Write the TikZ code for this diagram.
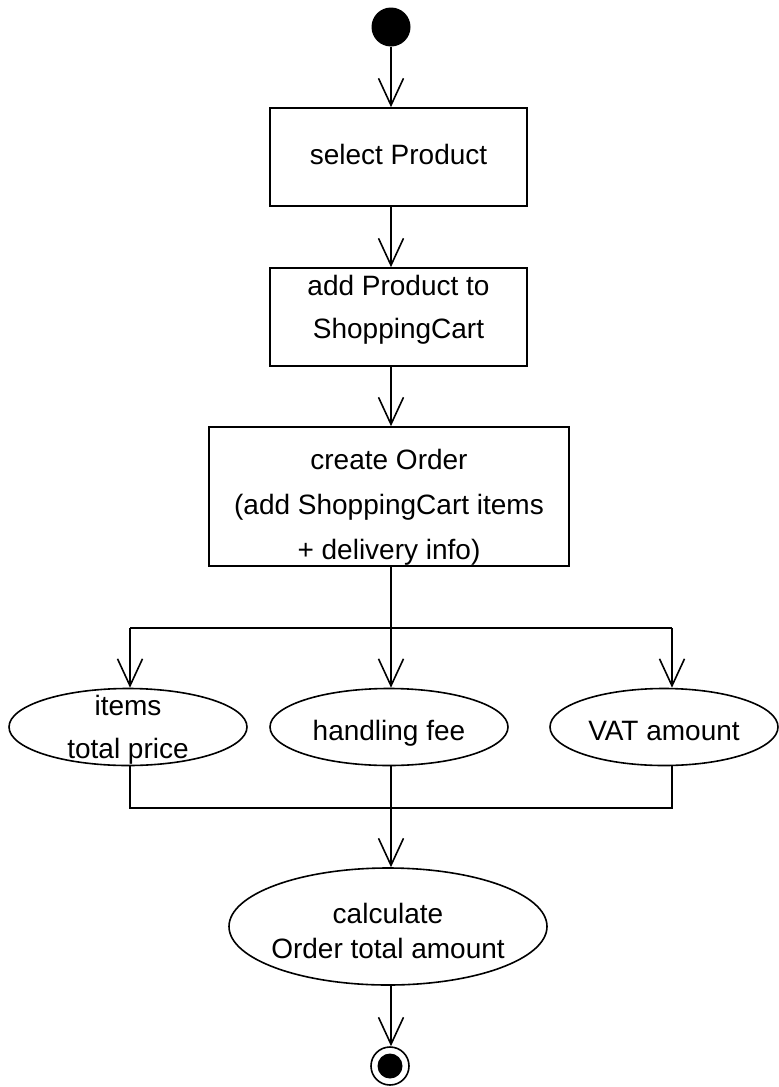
\documentclass[tikz,border=0pt]{standalone}
\usepackage{fontspec}
\setmainfont{Liberation Sans}
\usetikzlibrary{arrows.meta,shapes.geometric}

\begin{document}
\begin{tikzpicture}[x=1pt,y=-1pt,
  every node/.style={font=\fontsize{28}{43}\selectfont, align=center, inner sep=0pt},
  action/.style={draw, line width=1.6pt, rectangle},
  oval/.style={draw, line width=1.6pt, ellipse, inner sep=0pt},
  oneline/.style={text height=20pt, text depth=6pt},
  flow/.style={line width=1.6pt, -{Straight Barb[length=27pt,width=25pt]}},
  link/.style={line width=1.6pt},
]
\useasboundingbox (0,0) rectangle (779,1087);

% initial node
\node[fill, circle, minimum size=39pt] (start) at (391,27) {};

% actions
\node[action, minimum width=257pt, minimum height=98pt,
      label={[oneline]center:select Product}] (box1) at (398.5,157) {};
\node[action, minimum width=257pt, minimum height=98pt,
      label={[yshift=7pt]center:add Product to\\ShoppingCart}] (box2) at (398.5,317) {};
\node[action, minimum width=360pt, minimum height=139pt,
      label={[font=\fontsize{28}{45}\selectfont, yshift=-11pt]center:create Order\\(add ShoppingCart items\\+ delivery info)}]
      (box3) at (389,496.5) {};

% parallel calculations
\node[oval, minimum width=238pt, minimum height=77pt,
      label={[yshift=-3pt]center:items\\total price}] (e1) at (128,727) {};
\node[oval, minimum width=238pt, minimum height=77pt,
      label={[oneline, yshift=-6pt]center:handling fee}] (e2) at (389,727) {};
\node[oval, minimum width=228pt, minimum height=77pt,
      label={[oneline, yshift=-6pt]center:VAT amount}] (e3) at (664,727) {};

% total
\node[oval, minimum width=318pt, minimum height=117pt,
      label={[font=\fontsize{28}{35}\selectfont, yshift=-4pt]center:calculate\\Order total amount}] (calc) at (388,926.5) {};

% final node
\node[circle, draw, line width=1.6pt, minimum size=38pt] (final) at (390,1066) {};
\node[circle, fill, minimum size=25pt] (finaldot) at (final) {};

% fork / join points
\coordinate (fk) at (391,628);
\coordinate (fl) at (130,628);
\coordinate (fr) at (672,628);
\coordinate (jl) at (130,808);
\coordinate (jm) at (391,808);
\coordinate (jr) at (672,808);

% control flow
\draw[flow] (start.south) -- (start.south |- box1.north);
\draw[flow] (box1.south -| start) -- (box2.north -| start);
\draw[flow] (box2.south -| start) -- (box3.north -| start);
\draw[link] (box3.south -| fk) -- (fk);
\draw[link] (fl) -- (fr);
\draw[flow] (fl) -- (fl |- e1.north);
\draw[flow] (fk) -- (fk |- e2.north);
\draw[flow] (fr) -- (fr |- e3.north);
\draw[link] (e1.south -| jl) -- (jl) -- (jr) -- (e3.south -| jr);
\draw[link] (e2.south -| jm) -- (jm);
\draw[flow] (jm) -- (jm |- calc.north);
\draw[flow] (calc.south -| jm) -- (jm |- final.north);
\end{tikzpicture}
\end{document}
